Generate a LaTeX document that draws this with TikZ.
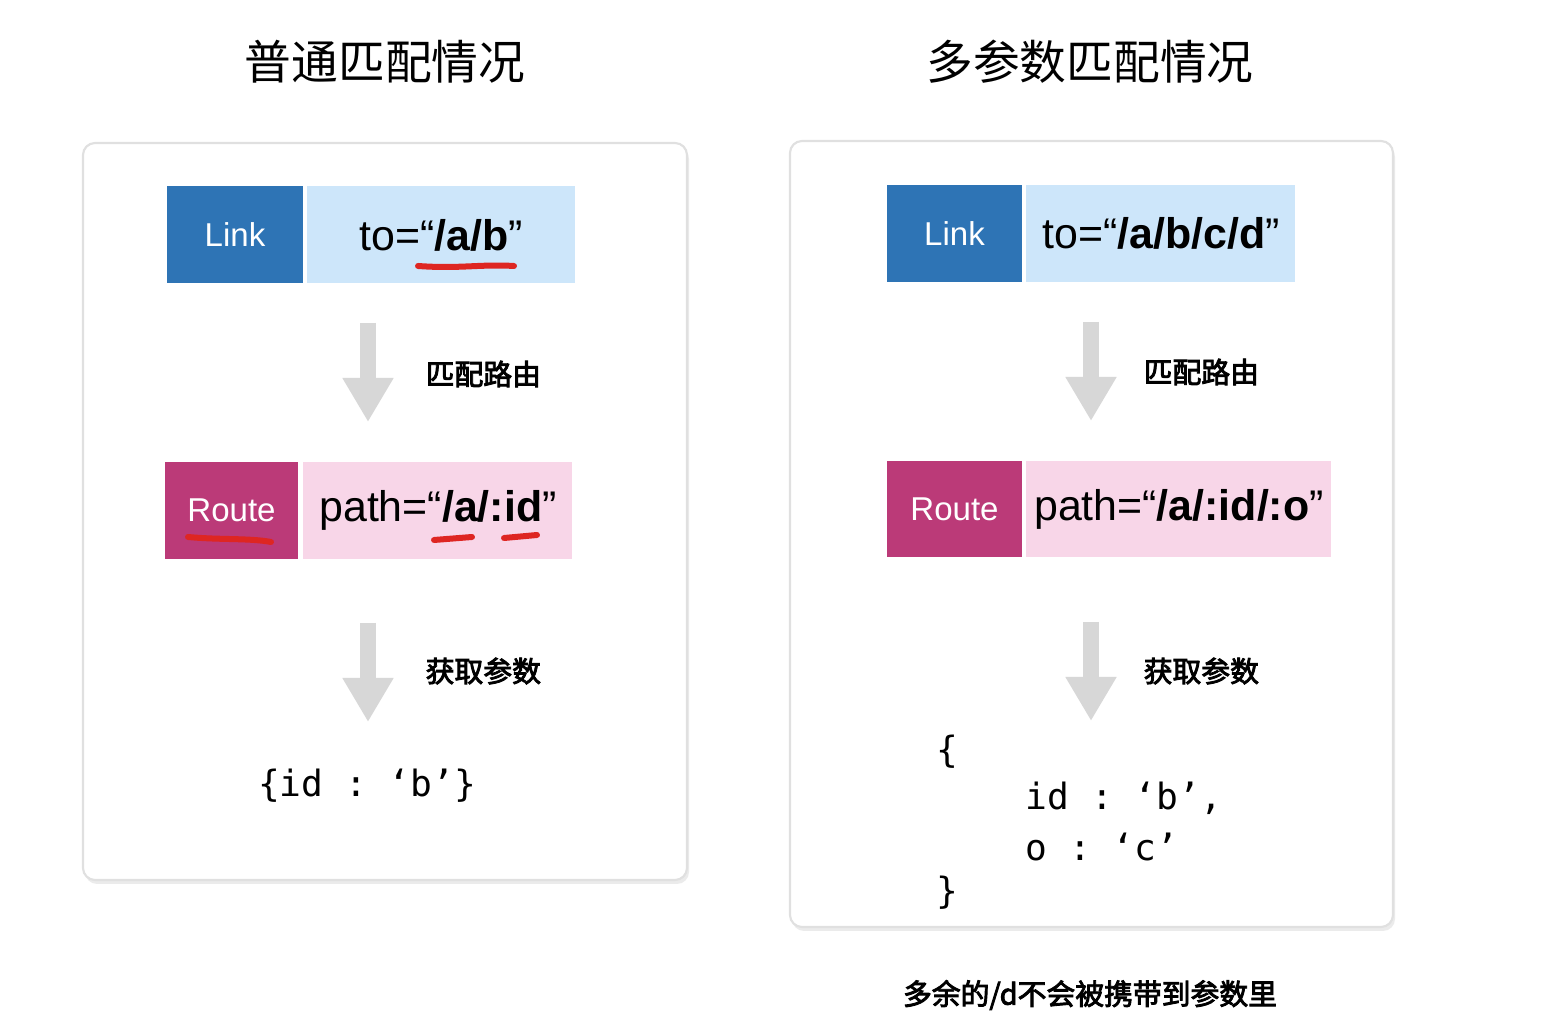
\documentclass[tikz,border=0pt]{standalone}
\usepackage{fontspec}
\setmainfont{Liberation Sans}
\setmonofont{DejaVu Sans Mono}
\newfontfamily\cjk{Noto Sans CJK SC}
\newfontfamily\cjkmid[FakeBold=3]{Noto Sans CJK SC}
\usepackage{xcolor}
\usetikzlibrary{positioning,arrows.meta,shadows}

\definecolor{linkblue}{RGB}{46,116,181}
\definecolor{linklight}{RGB}{205,230,250}
\definecolor{routepink}{RGB}{187,58,120}
\definecolor{routelight}{RGB}{248,214,232}
\definecolor{arrowgray}{RGB}{215,215,215}
\definecolor{scribred}{RGB}{222,38,34}

\begin{document}
\begin{tikzpicture}[
  panel/.style={draw=black!12, fill=white, rounded corners=0.12cm, line width=0.6pt,
    drop shadow={shadow xshift=0.02cm, shadow yshift=-0.04cm, opacity=0.25, fill=black!30}},
  tagbox/.style={minimum height=0.97cm, inner sep=0pt, text=white, font=\fontsize{9.4}{11}\selectfont},
  valbox/.style={minimum height=0.97cm, inner sep=0pt, font=\fontsize{12.2}{14}\selectfont},
  stepnote/.style={anchor=west, inner sep=0pt, font=\cjkmid\fontsize{8.2}{10}\selectfont},
  flow/.style={draw=arrowgray, line width=0.16cm, -{Triangle[length=0.44cm, width=0.48cm]}},
  codeline/.style={inner sep=0pt, font=\ttfamily\fontsize{10.3}{12}\selectfont},
  scribble/.style={draw=scribred, line width=0.06cm, line cap=round},
]
  \useasboundingbox[fill=white] (0,0) rectangle (15.5,-10.26);

  % Titles
  \node[font=\cjk\fontsize{13.3}{16}\selectfont] (ttlleft) at (3.85,-0.62) {普通匹配情况};
  \node[font=\cjk\fontsize{13.3}{16}\selectfont] (ttlright) at (10.9,-0.62) {多参数匹配情况};

  % Panels
  \draw[panel] (0.83,-1.43) rectangle (6.87,-8.80);
  \draw[panel] (7.90,-1.41) rectangle (13.93,-9.27);

  % Left: plain match
  \node[tagbox, fill=linkblue, minimum width=1.36cm] (link1) at (2.35,-2.35) {Link};
  \node[valbox, fill=linklight, minimum width=2.68cm, right=0.03cm of link1] (to1) {to=“\textbf{/a/b}”};
  \coordinate (f1s) at (3.68,-3.23);
  \coordinate (f1e) at (3.68,-4.22);
  \draw[flow] (f1s) -- (f1e);
  \node[stepnote] (match1) at (4.25,-3.74) {匹配路由};

  \node[tagbox, fill=routepink, minimum width=1.33cm] (route1) at (2.315,-5.105) {Route};
  \node[valbox, fill=routelight, minimum width=2.69cm, right=0.04cm of route1] (path1) {path=“\textbf{/a/:id}”};
  \coordinate (f2s) at (3.68,-6.23);
  \coordinate (f2e) at (3.68,-7.22);
  \draw[flow] (f2s) -- (f2e);
  \node[stepnote] (param1) at (4.25,-6.71) {获取参数};

  \node[codeline] (res1) at (3.67,-7.86) {\{id : ‘b’\}};

  % hand marks
  \draw[scribble] (4.18,-2.66) .. controls (4.6,-2.69) and (4.8,-2.64) .. (5.14,-2.66);
  \draw[scribble] (1.88,-5.37) .. controls (2.2,-5.40) and (2.5,-5.38) .. (2.71,-5.42);
  \draw[scribble] (4.34,-5.40) -- (4.72,-5.37);
  \draw[scribble] (5.04,-5.38) -- (5.37,-5.35);

  % Right: multi-param match
  \node[tagbox, fill=linkblue, minimum width=1.35cm] (link2) at (9.545,-2.335) {Link};
  \node[valbox, fill=linklight, minimum width=2.69cm, right=0.03cm of link2] (to2) {to=“\textbf{/a/b/c/d}”};
  \coordinate (f3s) at (10.91,-3.22);
  \coordinate (f3e) at (10.91,-4.21);
  \draw[flow] (f3s) -- (f3e);
  \node[stepnote] (match2) at (11.43,-3.72) {匹配路由};

  \node[tagbox, fill=routepink, minimum width=1.35cm, minimum height=0.96cm] (route2) at (9.545,-5.09) {Route};
  \node[valbox, fill=routelight, minimum width=3.05cm, minimum height=0.96cm, right=0.03cm of route2] (path2) {path=“\textbf{/a/:id/:o}”};
  \coordinate (f4s) at (10.91,-6.22);
  \coordinate (f4e) at (10.91,-7.21);
  \draw[flow] (f4s) -- (f4e);
  \node[stepnote] (param2) at (11.43,-6.71) {获取参数};

  \node[codeline, anchor=west] (open2) at (9.36,-7.52) {\{};
  \node[codeline, anchor=west] (id2) at (10.25,-7.98) {id : ‘b’,};
  \node[codeline, anchor=west] (o2) at (10.25,-8.47) {o : ‘c’};
  \node[codeline, anchor=west] (close2) at (9.36,-8.93) {\}};

  \node[font=\cjkmid\fontsize{8.2}{10}\selectfont] (note2) at (10.9,-9.95) {多余的/d不会被携带到参数里};
\end{tikzpicture}
\end{document}
